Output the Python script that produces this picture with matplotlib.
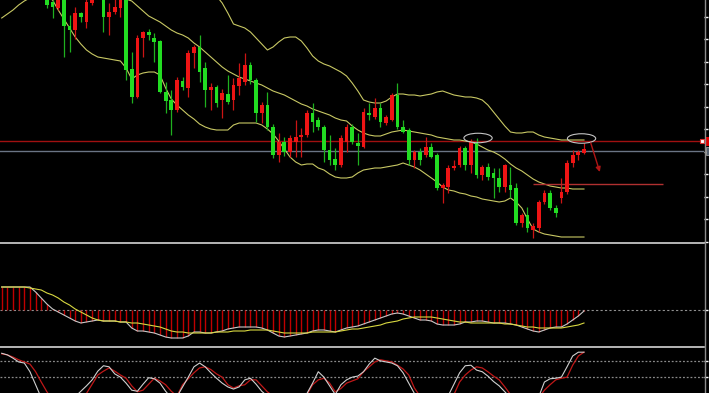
import numpy as np
import matplotlib
matplotlib.use("Agg")
import matplotlib.pyplot as plt
from matplotlib.patches import Ellipse, Rectangle
from matplotlib.lines import Line2D

# ---------------- data (price in chart points) ----------------
opens = [262,258,262,267,264,272,265,268,
         255,248,242,253,224,220,237,228,
         247,265,258,233,238,242,255,181,
         153,212,218,212,209,158,150,140,
         169,162,197,203,182,160,163,150,
         156,150,164,168,185,170,137,145,
         123,95,108,98,108,113,115,137,
         130,123,100,91,85,108,123,107,
         103,137,133,142,127,130,155,123,
         120,90,98,95,103,95,62,63,
         82,85,102,85,107,75,83,77,
         72,63,65,62,27,35,20,22,
         48,57,42,52,58,87,95,97]
closes = [258,262,267,264,272,265,268,264,
          245,243,252,224,220,237,233,248,
          254,258,233,238,243,253,180,153,
          212,218,215,208,158,149,140,170,
          163,197,203,178,160,163,147,157,
          148,165,172,185,170,137,145,123,
          95,108,98,112,113,115,137,128,
          123,100,90,85,112,123,108,104,
          138,135,142,128,133,155,123,118,
          90,98,90,103,93,62,65,82,
          84,102,85,108,75,83,73,72,
          63,85,60,27,35,22,24,48,
          57,42,37,58,87,95,98,101]
highs = [266,264,270,272,275,276,271,273,
         260,250,255,256,235,243,238,251,
         258,270,262,247,252,258,258,198,
         215,219,221,217,210,168,160,173,
         173,200,205,215,188,167,165,161,
         175,172,187,197,188,172,148,158,
         126,117,113,115,130,122,140,147,
         133,125,115,102,115,126,126,117,
         142,147,152,147,135,157,167,130,
         122,100,102,113,107,97,67,85,
         90,104,104,111,112,85,87,82,
         82,86,83,67,37,43,27,50,
         60,60,45,72,90,100,100,107]
lows = [255,256,259,262,262,263,260,261,
        242,232,240,193,198,211,228,222,
        245,255,218,215,236,233,170,147,
        152,193,210,188,157,137,115,138,
        160,153,182,168,143,140,143,132,
        146,140,155,165,166,128,127,120,
        92,88,94,93,93,93,113,118,
        120,88,85,80,83,98,106,85,
        102,130,131,123,125,129,121,117,
        85,82,85,93,92,60,47,57,
        80,83,80,77,72,70,70,52,
        58,58,52,25,23,18,12,18,
        46,40,33,47,56,83,90,96]

bb_upper = [345,343,341,339,337,335,333,330,
            327,324,321,318,315,312,309,306,
            303,300,297,294,291,288,285,282,
            279,276,273,270,268,266,264,262,
            260,259,258,257,256,255,254,247,
            237,226,224,222,218,212,206,200,
            203,208,212,213,213,209,202,194,
            189,186,184,181,178,174,167,159,
            150,148,147,147,149,153,156,156,
            155,155,154,155,156,158,159,157,
            155,154,153,153,152,150,145,138,
            131,124,118,117,117,118,118,115,
            113,112,111,110,110,110,110,110]
bb_mid = [295,293,291,289,287,285,283,281,
          279,277,275,273,271,269,267,265,
          263,261,259,257,255,253,251,249,
          244,239,234,231,228,224,220,217,
          215,212,207,203,198,193,188,183,
          179,176,173,171,169,167,165,162,
          159,157,155,152,149,146,144,141,
          139,137,135,132,130,129,124,120,
          117,115,114,114,116,118,119,120,
          119,118,117,116,115,113,112,111,
          110,110,109,108,106,103,100,98,
          95,91,86,82,79,75,71,68,
          66,64,63,62,62,61,61,61]
bb_lower = [232,236,240,245,249,252,254,254,
            253,250,240,231,222,213,206,200,
            196,193,192,191,190,189,182,171,
            175,177,178,178,175,162,151,145,
            140,135,131,126,123,121,120,120,
            120,125,127,127,127,127,125,121,
            116,109,101,93,88,85,86,86,
            82,80,76,73,72,72,73,77,
            80,81,82,82,83,84,85,87,
            85,83,80,76,72,68,63,60,
            59,57,56,54,53,51,50,49,
            48,49,52,48,42,31,21,18,
            16,15,14,13,13,13,13,13]

macd_main = [23,23,23,23,23,23,18,12,
             6,1,-2,-5,-8,-11,-13,-12,
             -11,-10,-11,-11,-11,-12,-12,-18,
             -21,-21,-22,-23,-25,-27,-28,-28,
             -28,-26,-22,-22,-23,-23,-22,-21,
             -19,-18,-17,-17,-17,-17,-18,-20,
             -23,-26,-27,-26,-25,-24,-23,-21,
             -20,-20,-21,-22,-20,-18,-17,-16,
             -14,-12,-10,-8,-6,-4,-3,-4,
             -6,-8,-10,-10,-11,-14,-15,-15,
             -15,-14,-12,-12,-11,-11,-12,-13,
             -13,-13,-14,-15,-17,-19,-21,-22,
             -20,-18,-17,-17,-14,-10,-6,-1]
macd_signal = [23,23,23,23,23,22,21,20,
               17,15,12,8,5,1,-2,-5,
               -8,-10,-11,-11,-11,-12,-12,-13,
               -13,-14,-15,-16,-17,-19,-21,-22,
               -22,-23,-23,-23,-23,-23,-22,-22,
               -22,-21,-21,-21,-20,-20,-20,-20,
               -21,-22,-23,-23,-23,-23,-23,-22,
               -22,-22,-22,-22,-21,-20,-19,-19,
               -18,-17,-16,-15,-13,-12,-11,-9,
               -8,-7,-7,-7,-7,-8,-9,-10,
               -11,-12,-12,-13,-13,-13,-13,-13,
               -13,-14,-14,-15,-16,-17,-17,-18,
               -18,-18,-18,-18,-17,-16,-15,-13]

stoch_k = [94,91,85,78,76,60,36,12,
           5,3,4,6,8,14,24,34,
           45,61,71,69,56,50,39,26,
           24,37,49,47,39,24,12,14,
           32,50,69,76,69,58,48,39,
           32,28,32,45,48,37,24,15,
           10,8,9,12,14,18,20,39,
           60,50,34,18,36,45,50,52,
           60,74,85,80,78,76,71,58,
           39,20,10,6,7,9,12,16,
           37,58,71,72,63,60,52,42,
           34,23,12,6,4,5,8,14,
           41,47,48,50,69,89,96,96]
stoch_d = [93,91,87,82,78,74,60,41,
           23,8,5,5,7,10,14,20,
           37,54,61,67,61,54,48,34,
           23,26,37,48,43,36,24,15,
           36,47,58,67,69,64,56,50,
           36,30,34,36,45,45,34,23,
           15,10,9,10,12,15,18,36,
           45,48,39,23,29,39,43,47,
           60,69,78,82,80,78,72,65,
           54,30,15,9,7,8,10,13,
           18,41,54,63,69,67,60,52,
           45,32,18,10,6,5,7,12,
           26,36,45,48,50,72,89,96]

level_red = 109.3
level_gray = 99.3
level_short = 66
level_short_span = (94.0, 117.0)
stoch_levels = [80, 50]
price_ticks = np.arange(8.3, 250, 22.5)
ellipses = [(84.26, 112), (102.57, 111.5)]
arrow_from = (104.2, 107)
arrow_to = (105.8, 78)

n = len(opens)
idx = np.arange(n)
for arr in (closes, highs, lows, bb_upper, bb_mid, bb_lower, macd_main,
            macd_signal, stoch_k, stoch_d):
    assert len(arr) == n

# ---------------- figure ----------------
W, H = 709, 393
fig = plt.figure(figsize=(W / 100, H / 100), dpi=100, facecolor="black")
XL = (-0.3, 124.23)
wfrac = 704 / W

ax1 = fig.add_axes([0, 151 / H, wfrac, 242 / H])
ax2 = fig.add_axes([0, 46 / H, wfrac, 104 / H])
ax3 = fig.add_axes([0, 0, wfrac, 45 / H])

for ax in (ax1, ax2, ax3):
    ax.set_facecolor("black")
    ax.set_xlim(*XL)
    for s in ax.spines.values():
        s.set_visible(False)
    ax.set_xticks([])
    ax.yaxis.tick_right()
    ax.tick_params(axis="y", direction="out", length=3, width=1, color="white",
                   labelright=False, labelleft=False)

# ---- main panel ----
ax1.set_ylim(8, 250)
ax1.set_yticks(price_ticks)

ax1.axhline(level_red, color="#a01010", lw=1.0, zorder=1)
ax1.axhline(level_gray, color="#6a7484", lw=1.0, zorder=1)

ax1.plot(idx, bb_upper, color="#c8c864", lw=0.8, zorder=2)
ax1.plot(idx, bb_mid, color="#c8c864", lw=0.8, zorder=2)
ax1.plot(idx, bb_lower, color="#c8c864", lw=0.8, zorder=2)

o = np.array(opens, float)
c = np.array(closes, float)
up = c > o
body_col = np.where(up, "#ee1414", "#22dd22")
wick_col = np.where(up, "#cc1414", "#1fb01f")
ax1.vlines(idx, lows, highs, colors=wick_col, lw=0.9, zorder=3)
bottoms = np.minimum(o, c)
heights = np.maximum(np.abs(c - o), 1.0)
ax1.bar(idx, heights, bottom=bottoms, width=0.66, color=body_col, lw=0, zorder=4)

ax1.hlines(level_short, *level_short_span, color="#b03030", lw=1.0, zorder=3)
for (ex, ey) in ellipses:
    ax1.add_patch(Ellipse((ex, ey), width=5.0, height=9.5, fill=False,
                          edgecolor="#c4c4c4", lw=0.8, zorder=5))
ax1.annotate("", xy=arrow_to, xytext=arrow_from,
             arrowprops=dict(arrowstyle="-|>", color="#b01515", lw=1.0,
                             mutation_scale=7, shrinkA=0, shrinkB=0), zorder=5)
ax1.plot([123.9], [level_red], marker="s", ms=3, mfc="white", mec="#e03030",
         mew=0.8, zorder=6, clip_on=False)

# ---- MACD panel ----
ax2.set_ylim(-37, 67)
ax2.set_yticks([0])
ax2.axhline(0, color="#909090", lw=0.8, ls=(0, (2, 2)), zorder=1)
ax2.vlines(idx, 0, macd_main, colors="#c00000", lw=1.0, zorder=2)
ax2.plot(idx, macd_main, color="#c8c8c8", lw=0.8, zorder=3)
ax2.plot(idx, macd_signal, color="#d8d840", lw=0.8, zorder=3)

# ---- Stochastic panel ----
ax3.set_ylim(20.8, 103.7)
ax3.set_yticks(stoch_levels)
for lv in stoch_levels:
    ax3.axhline(lv, color="#8a8a8a", lw=0.9, ls=(0, (1.5, 1.5)), zorder=1)
ax3.plot(idx, stoch_d, color="#c01818", lw=0.9, zorder=2)
ax3.plot(idx, stoch_k, color="#d0d0d0", lw=0.8, zorder=3)

# ---- separators, right scale line, price boxes ----
for ypx in (242.5, 347.0):
    fig.add_artist(Line2D([0, 704 / W], [1 - ypx / H] * 2, color="#d4d4d4",
                          lw=1.2, transform=fig.transFigure))
fig.add_artist(Line2D([704.5 / W] * 2, [0, 1], color="#8c8c8c", lw=1.0,
                      transform=fig.transFigure))
fig.add_artist(Rectangle((706 / W, 1 - 146 / H), 4 / W, 9 / H,
                         facecolor="#e00000", edgecolor="none",
                         transform=fig.transFigure))
fig.add_artist(Rectangle((706 / W, 1 - 155 / H), 4 / W, 8 / H,
                         facecolor="#55606e", edgecolor="#a0a0a0", lw=0.6,
                         transform=fig.transFigure))

fig.savefig("out.png", dpi=100, facecolor="black")
